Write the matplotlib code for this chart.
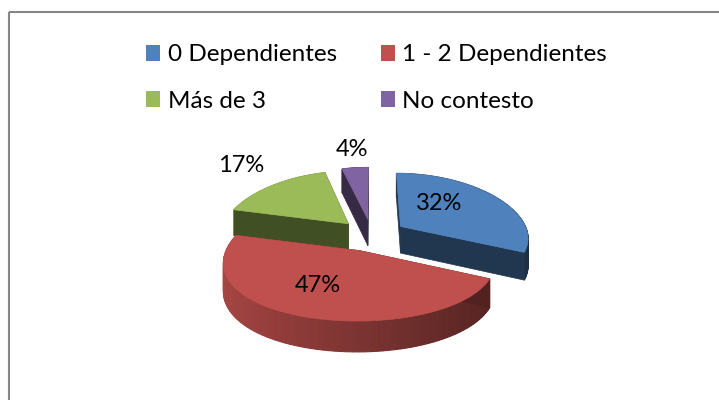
import numpy as np
import matplotlib
matplotlib.use("Agg")
import matplotlib.pyplot as plt
from matplotlib.patches import Polygon, Patch, Rectangle

categories = ["0 Dependientes", "1 - 2 Dependientes", "Más de 3", "No contesto"]
values = [32, 47, 17, 4]
colors = ["#4f81bd", "#c0504d", "#9bbb59", "#8064a2"]

plt.rcParams["font.family"] = ["Lato", "DejaVu Sans"]

CX, CY = 372, 235
RX, RY = 128, 60
DEPTH = 27
PERSP_X = 0.17
PERSP_Y = 0.1
EXPLODE = 0.27


def project(x, y, z=0):
    # simple perspective, back of the pie (y>0) gets smaller
    sx = 1 / (1 + PERSP_X * y)
    sy = 1 / (1 + PERSP_Y * y)
    return CX + RX * x * sx, CY - RY * y * sy + DEPTH * z * sy


def shade(col, f):
    return tuple(c * f for c in matplotlib.colors.to_rgb(col))


fig = plt.figure(figsize=(7.19, 4.0), dpi=100)
ax = fig.add_axes([0, 0, 1, 1])
ax.set_xlim(0, 719)
ax.set_ylim(400, 0)
ax.axis("off")

ax.add_patch(Rectangle((9, 12), 800, 500, fill=False, edgecolor="#868686", lw=1.5))

# slice angles, clockwise from 12 o'clock
shares = np.array(values) / sum(values) * 360
ends = 90 - np.cumsum(shares)
starts = ends + shares

draw_order = [2, 3, 0, 1]
for i in draw_order:
    a1, a2 = np.radians(starts[i]), np.radians(ends[i])
    mid = (a1 + a2) / 2
    ox, oy = EXPLODE * np.cos(mid), EXPLODE * np.sin(mid)
    t = np.linspace(a1, a2, 80)
    xs, ys = ox + np.cos(t), oy + np.sin(t)

    # rim, shaded by position left to right
    for j in range(len(t) - 1):
        f = np.interp(xs[j], [-1.2, 1.2], [0.9, 0.36])
        q = [project(xs[j], ys[j]), project(xs[j + 1], ys[j + 1]),
             project(xs[j + 1], ys[j + 1], 1), project(xs[j], ys[j], 1)]
        ax.add_patch(Polygon(q, closed=True, facecolor=shade(colors[i], f),
                             edgecolor=shade(colors[i], f), lw=0.8))
    # walls from the centre of the slice
    for k in (0, -1):
        q = [project(ox, oy), project(xs[k], ys[k]),
             project(xs[k], ys[k], 1), project(ox, oy, 1)]
        ax.add_patch(Polygon(q, closed=True, facecolor=shade(colors[i], 0.42),
                             edgecolor=shade(colors[i], 0.42), lw=0.5))
    top = [project(ox, oy)] + [project(a, b) for a, b in zip(xs, ys)]
    ax.add_patch(Polygon(top, closed=True, facecolor=colors[i], edgecolor=colors[i], lw=0.5))

label_pos = [(439, 204), (318, 285), (241, 166), (352, 150)]
for v, (lx, ly) in zip(values, label_pos):
    ax.text(lx, ly, f"{v}%", ha="center", va="center", fontsize=17, color="black")

handles = [Patch(facecolor=c, edgecolor="none") for c in colors]
# matplotlib fills columns first, so reorder for the two rows
order = [0, 2, 1, 3]
ax.legend([handles[i] for i in order], [categories[i] for i in order], ncol=2,
          loc="center", bbox_to_anchor=(376.5 / 719, 1 - 78 / 400), frameon=False,
          fontsize=17.5, handlelength=0.6, handleheight=0.6, handletextpad=0.3,
          columnspacing=1.8, labelspacing=1.04)

fig.savefig("out.png", dpi=100)
